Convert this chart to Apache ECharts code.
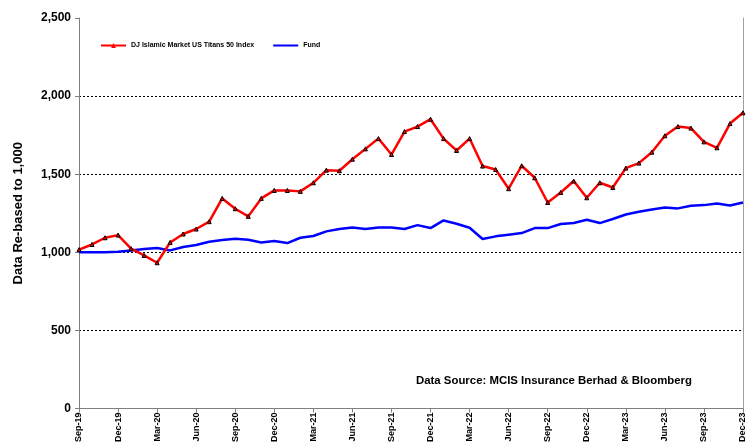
<!DOCTYPE html>
<html><head><meta charset="utf-8">
<script src="https://cdn.jsdelivr.net/npm/echarts@6/dist/echarts.min.js"></script>
<style>html,body{margin:0;padding:0;background:#fff}#c{width:748px;height:445px}</style>
</head><body><div id="c"></div>
<script>
const months = ['Sep-19','Oct-19','Nov-19','Dec-19','Jan-20','Feb-20','Mar-20','Apr-20','May-20','Jun-20','Jul-20','Aug-20','Sep-20','Oct-20','Nov-20','Dec-20','Jan-21','Feb-21','Mar-21','Apr-21','May-21','Jun-21','Jul-21','Aug-21','Sep-21','Oct-21','Nov-21','Dec-21','Jan-22','Feb-22','Mar-22','Apr-22','May-22','Jun-22','Jul-22','Aug-22','Sep-22','Oct-22','Nov-22','Dec-22','Jan-23','Feb-23','Mar-23','Apr-23','May-23','Jun-23','Jul-23','Aug-23','Sep-23','Oct-23','Nov-23','Dec-23'];
const djIndex = [1017,1050,1093,1110,1023,980,933,1063,1117,1149,1196,1345,1279,1230,1345,1396,1396,1390,1445,1526,1522,1596,1662,1728,1626,1773,1805,1852,1728,1652,1728,1552,1530,1407,1554,1477,1319,1383,1456,1349,1445,1415,1539,1571,1641,1746,1805,1795,1707,1669,1824,1893];
const fund = [1000,1000,1000,1004,1012,1021,1027,1012,1034,1047,1068,1078,1087,1080,1063,1072,1059,1093,1104,1134,1149,1159,1149,1159,1159,1149,1174,1155,1204,1183,1157,1085,1102,1113,1123,1155,1155,1181,1187,1208,1187,1213,1242,1260,1274,1287,1281,1298,1302,1313,1300,1319];
const seriesNames = ['DJ Islamic Market US Titans 50 Index','Fund'];
const sourceText = 'Data Source: MCIS Insurance Berhad & Bloomberg';

const chart = echarts.init(document.getElementById('c'), null, {renderer:'canvas'});
const F = 'Liberation Sans, Arial, sans-serif';
chart.setOption({
  animation:false,
  backgroundColor:'#fff',
  grid:{left:79,right:5,top:18,bottom:36,containLabel:false},
  legend:{
    top:42,left:100,padding:0,itemWidth:25,itemHeight:6,itemGap:18,
    textStyle:{fontFamily:F,fontSize:7,fontWeight:'bold',color:'#000'},
    data:[{name:seriesNames[0]},{name:seriesNames[1],itemStyle:{opacity:0}}]
  },
  xAxis:{
    type:'category',data:months,boundaryGap:false,
    axisLine:{lineStyle:{color:'#808080',width:1}},
    axisTick:{interval:2,length:4,lineStyle:{color:'#808080'}},
    axisLabel:{interval:2,rotate:90,fontFamily:F,fontSize:9,fontWeight:'bold',color:'#000',margin:4},
    splitLine:{show:false}
  },
  yAxis:[{
    type:'value',min:0,max:2500,interval:500,
    name:'Data Re-based to 1,000',nameLocation:'middle',nameGap:54,
    nameTextStyle:{fontFamily:F,fontSize:13,fontWeight:'bold',color:'#000'},
    axisLine:{show:true,lineStyle:{color:'#808080'}},
    axisTick:{show:true,length:4,lineStyle:{color:'#808080'}},
    axisLabel:{fontFamily:F,fontSize:12,fontWeight:'bold',color:'#000',margin:8,
      formatter:v=>v.toLocaleString('en-US')},
    splitLine:{show:true,showMaxLine:false,showMinLine:false,lineStyle:{color:'#000',type:[2,2],width:1}}
  },{
    type:'value',min:0,max:2500,interval:500,position:'right',
    axisLine:{show:true,lineStyle:{color:'#a0a0a0'}},
    axisTick:{show:false},axisLabel:{show:false},splitLine:{show:false}
  }],
  series:[{
    name:seriesNames[0],type:'line',data:djIndex,
    lineStyle:{color:'#ff0000',width:2.5},
    itemStyle:{color:'#ff0000',borderColor:'#000'},
    symbol:'triangle',symbolSize:4,showSymbol:true,
    emphasis:{disabled:true},z:3
  },{
    name:seriesNames[1],type:'line',data:fund,
    lineStyle:{color:'#0000ff',width:2.5},
    itemStyle:{color:'#0000ff'},
    symbol:'none',emphasis:{disabled:true},z:2
  }],
  graphic:[{
    type:'text',left:416,top:375,
    style:{text:sourceText,fontFamily:F,fontSize:11.4,fontWeight:'bold',fill:'#000'}
  }]
});
</script></body></html>
